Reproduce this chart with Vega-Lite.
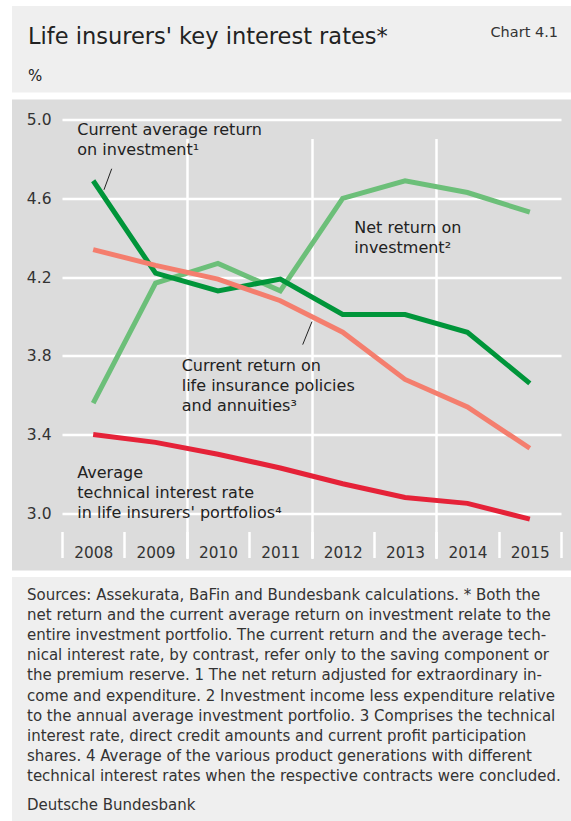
{
  "$schema": "https://vega.github.io/schema/vega-lite/v6.json",
  "background": "white",
  "padding": {"left": 12, "top": 6, "right": 0, "bottom": 0},
  "autosize": {"type": "pad"},
  "config": {
    "font": "DejaVu Sans",
    "view": {"stroke": null},
    "title": {"color": "#222222", "subtitleColor": "#222222", "fontWeight": "normal", "subtitleFontWeight": "normal", "font": "DejaVu Sans", "subtitleFont": "DejaVu Sans"}
  },
  "spacing": 6.5,
  "vconcat": [
    {
      "spacing": 0,
      "hconcat": [
        {
          "width": 400,
          "height": 86.5,
          "view": {"fill": "#efefef", "stroke": null},
          "title": {
            "text": "Life insurers' key interest rates*",
            "subtitle": "%",
            "anchor": "start",
            "frame": "group",
            "fontSize": 22.5,
            "subtitleFontSize": 15,
            "subtitlePadding": 21,
            "dx": 16,
            "offset": -78
          },
          "data": {"values": []},
          "mark": {"type": "text"},
          "encoding": {}
        },
        {
          "width": 159,
          "height": 86.5,
          "view": {"fill": "#efefef", "stroke": null},
          "title": {
            "text": "Chart 4.1",
            "anchor": "end",
            "frame": "group",
            "fontSize": 14.5,
            "color": "#333333",
            "dx": -13,
            "offset": -34
          },
          "data": {"values": []},
          "mark": {"type": "text"},
          "encoding": {}
        }
      ]
    },
    {
      "width": 559,
      "height": 471,
      "view": {"fill": "#dcdcdc", "stroke": null},
      "layer": [
        {
          "data": {
            "values": [
              {"year": 2008, "series": "Net return on investment", "value": 3.56},
              {"year": 2009, "series": "Net return on investment", "value": 4.17},
              {"year": 2010, "series": "Net return on investment", "value": 4.27},
              {"year": 2011, "series": "Net return on investment", "value": 4.13},
              {"year": 2012, "series": "Net return on investment", "value": 4.60},
              {"year": 2013, "series": "Net return on investment", "value": 4.69},
              {"year": 2014, "series": "Net return on investment", "value": 4.63},
              {"year": 2015, "series": "Net return on investment", "value": 4.53},
              {"year": 2008, "series": "Current average return on investment", "value": 4.69},
              {"year": 2009, "series": "Current average return on investment", "value": 4.22},
              {"year": 2010, "series": "Current average return on investment", "value": 4.13},
              {"year": 2011, "series": "Current average return on investment", "value": 4.19},
              {"year": 2012, "series": "Current average return on investment", "value": 4.01},
              {"year": 2013, "series": "Current average return on investment", "value": 4.01},
              {"year": 2014, "series": "Current average return on investment", "value": 3.92},
              {"year": 2015, "series": "Current average return on investment", "value": 3.66},
              {"year": 2008, "series": "Current return on life insurance policies and annuities", "value": 4.34},
              {"year": 2009, "series": "Current return on life insurance policies and annuities", "value": 4.26},
              {"year": 2010, "series": "Current return on life insurance policies and annuities", "value": 4.19},
              {"year": 2011, "series": "Current return on life insurance policies and annuities", "value": 4.08},
              {"year": 2012, "series": "Current return on life insurance policies and annuities", "value": 3.92},
              {"year": 2013, "series": "Current return on life insurance policies and annuities", "value": 3.68},
              {"year": 2014, "series": "Current return on life insurance policies and annuities", "value": 3.54},
              {"year": 2015, "series": "Current return on life insurance policies and annuities", "value": 3.33},
              {"year": 2008, "series": "Average technical interest rate in life insurers' portfolios", "value": 3.40},
              {"year": 2009, "series": "Average technical interest rate in life insurers' portfolios", "value": 3.36},
              {"year": 2010, "series": "Average technical interest rate in life insurers' portfolios", "value": 3.30},
              {"year": 2011, "series": "Average technical interest rate in life insurers' portfolios", "value": 3.23},
              {"year": 2012, "series": "Average technical interest rate in life insurers' portfolios", "value": 3.15},
              {"year": 2013, "series": "Average technical interest rate in life insurers' portfolios", "value": 3.08},
              {"year": 2014, "series": "Average technical interest rate in life insurers' portfolios", "value": 3.05},
              {"year": 2015, "series": "Average technical interest rate in life insurers' portfolios", "value": 2.97}
            ]
          },
          "mark": {"type": "line", "strokeWidth": 5, "strokeJoin": "miter", "strokeCap": "butt"},
          "encoding": {
            "x": {
              "field": "year",
              "type": "quantitative",
              "scale": {"domain": [2007.5, 2015.5], "range": [50, 549], "nice": false, "zero": false},
              "axis": {
                "orient": "bottom",
                "offset": -39,
                "title": null,
                "domain": false,
                "values": [2007.5, 2008.5, 2009.5, 2010.5, 2011.5, 2012.5, 2013.5, 2014.5, 2015.5],
                "labelExpr": "datum.value < 2015 ? format(datum.value + 0.5, 'd') : ''",
                "labelOffset": 31.2,
                "labelPadding": -12,
                "labelFontSize": 15.3,
                "labelColor": "#333333",
                "labelFlush": false,
                "labelOverlap": false,
                "labelBound": false,
                "ticks": true,
                "tickSize": 26,
                "tickColor": "white",
                "tickWidth": 2.5,
                "grid": true,
                "gridColor": "white",
                "gridWidth": 2.5,
                "gridOpacity": {"condition": {"test": "datum.value == 2009.5 || datum.value == 2011.5 || datum.value == 2013.5", "value": 1}, "value": 0}
              }
            },
            "y": {
              "field": "value",
              "type": "quantitative",
              "scale": {"domain": [2.907, 5.042], "range": [432, 12], "nice": false, "zero": false},
              "axis": {
                "orient": "left",
                "offset": -50,
                "title": null,
                "domain": false,
                "ticks": false,
                "values": [3.0, 3.4, 3.8, 4.2, 4.6, 5.0],
                "format": ".1f",
                "labelPadding": 11,
                "labelFontSize": 15.5,
                "labelColor": "#333333",
                "grid": true,
                "gridColor": "white",
                "gridWidth": 2.5
              }
            },
            "color": {
              "field": "series",
              "type": "nominal",
              "legend": null,
              "scale": {
                "domain": [
                  "Net return on investment",
                  "Current average return on investment",
                  "Current return on life insurance policies and annuities",
                  "Average technical interest rate in life insurers' portfolios"
                ],
                "range": ["#6cbf79", "#00953a", "#f47e6e", "#e52238"]
              }
            }
          }
        },
        {
          "data": {
            "values": [
              {"x": 2008.297, "y": 4.751, "x2": 2008.173, "y2": 4.644},
              {"x": 2011.508, "y": 3.974, "x2": 2011.359, "y2": 3.857}
            ]
          },
          "mark": {"type": "rule", "color": "#222222", "strokeWidth": 1},
          "encoding": {
            "x": {"field": "x", "type": "quantitative"},
            "x2": {"field": "x2"},
            "y": {"field": "y", "type": "quantitative"},
            "y2": {"field": "y2"}
          }
        },
        {
          "data": {
            "values": [
              {"label": "Current average return\non investment\u00b9", "x": 2007.745, "y": 4.988},
              {"label": "Net return on\ninvestment\u00b2", "x": 2012.186, "y": 4.493},
              {"label": "Current return on\nlife insurance policies\nand annuities\u00b3", "x": 2009.419, "y": 3.790},
              {"label": "Average\ntechnical interest rate\nin life insurers' portfolios\u2074", "x": 2007.745, "y": 3.247}
            ]
          },
          "mark": {"type": "text", "align": "left", "baseline": "top", "fontSize": 16, "lineHeight": 20, "lineBreak": "\n", "color": "#222222"},
          "encoding": {
            "x": {"field": "x", "type": "quantitative"},
            "y": {"field": "y", "type": "quantitative"},
            "text": {"field": "label"}
          }
        }
      ]
    },
    {
      "width": 559,
      "height": 244.5,
      "view": {"fill": "#efefef", "stroke": null},
      "title": {
        "text": [
          "Sources: Assekurata, BaFin and Bundesbank calculations. * Both the",
          "net return and the current average return on investment relate to the",
          "entire investment portfolio. The current return and the average tech-",
          "nical interest rate, by contrast, refer only to the saving component or",
          "the premium reserve. 1 The net return adjusted for extraordinary in-",
          "come and expenditure. 2 Investment income less expenditure relative",
          "to the annual average investment portfolio. 3 Comprises the technical",
          "interest rate, direct credit amounts and current profit participation",
          "shares. 4 Average of the various product generations with different",
          "technical interest rates when the respective contracts were concluded."
        ],
        "subtitle": "Deutsche Bundesbank",
        "anchor": "start",
        "frame": "group",
        "fontSize": 15,
        "lineHeight": 20.1,
        "subtitleFontSize": 15,
        "subtitleLineHeight": 20,
        "subtitlePadding": 14,
        "color": "#333333",
        "subtitleColor": "#333333",
        "dx": 15,
        "offset": -236
      },
      "data": {"values": []},
      "mark": {"type": "text"},
      "encoding": {}
    }
  ]
}
